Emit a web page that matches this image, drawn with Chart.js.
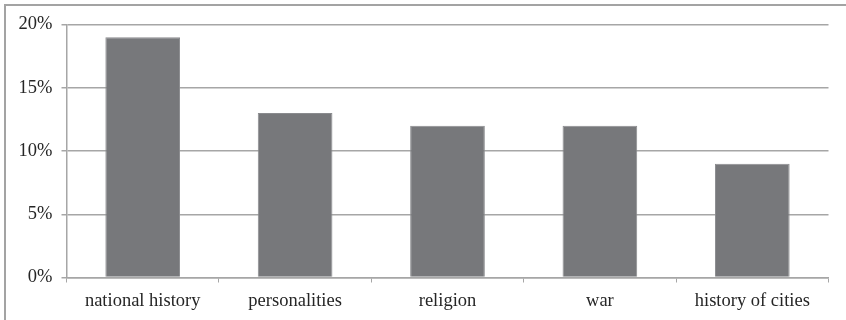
<!DOCTYPE html>
<html>
<head>
<meta charset="utf-8">
<script src="https://cdn.jsdelivr.net/npm/chart.js@4"></script>
<style>
  html, body { margin: 0; padding: 0; background: #fff; overflow: hidden; }
  #wrap { position: relative; width: 846px; height: 320px; }
  #frame { position: absolute; left: 4px; top: 4px; width: 900px; height: 400px;
           border-left: 2px solid #a3a3a3; border-top: 2px solid #a3a3a3; box-sizing: border-box; }
  canvas { position: absolute; left: 0; top: 0; }
</style>
</head>
<body>
<div id="wrap">
  <div id="frame"></div>
  <canvas id="barChart" width="846" height="320"></canvas>
</div>
<script>
var categories = ['national history', 'personalities', 'religion', 'war', 'history of cities'];
var shares = [19, 13, 12, 12, 9];
var yTicks = [0, 5, 10, 15, 20];

var gridGray = '#a6a6a6';
var labelFont = { family: 'Liberation Serif', size: 18.5 };

var ctx = document.getElementById('barChart').getContext('2d');
var chart = new Chart(ctx, {
    type: 'bar',
    data: {
        labels: categories,
        datasets: [{
            label: 'share',
            backgroundColor: '#77787b',
            borderColor: '#8a8b8e',
            borderWidth: 1,
            data: shares,
            categoryPercentage: 1,
            barPercentage: 0.49
        }]
    },
    options: {
        responsive: false,
        animation: false,
        layout: {
            padding: { left: 0, right: 17.5, top: 24.5, bottom: 0 }
        },
        plugins: {
            legend: { display: false },
            tooltip: { enabled: false }
        },
        scales: {
            x: {
                afterFit: function (s) { s.height = 42.5; },
                grid: {
                    offset: true,
                    drawOnChartArea: false,
                    drawTicks: true,
                    tickLength: 5,
                    color: gridGray
                },
                border: { color: gridGray, width: 1.5 },
                ticks: {
                    padding: 8,
                    color: '#262626',
                    font: labelFont,
                    maxRotation: 0
                }
            },
            y: {
                min: 0,
                max: 20,
                afterFit: function (s) { s.width = 66.5; },
                afterBuildTicks: function (s) {
                    s.ticks = yTicks.map(function (v) { return { value: v }; });
                },
                grid: {
                    color: gridGray,
                    lineWidth: 1.5,
                    tickLength: 5
                },
                border: { color: gridGray, width: 1.5 },
                ticks: {
                    padding: 9,
                    color: '#262626',
                    font: labelFont,
                    callback: function (v) { return v + '%'; }
                }
            }
        }
    }
});
</script>
</body>
</html>
